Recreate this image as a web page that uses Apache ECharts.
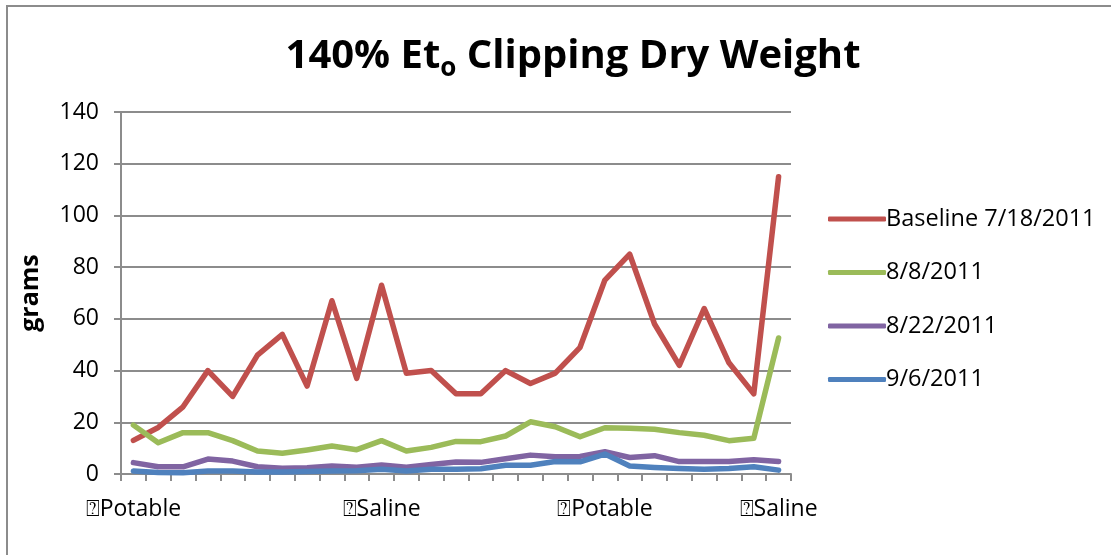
<!DOCTYPE html>
<html><head><meta charset="utf-8">
<script src="https://cdn.jsdelivr.net/npm/echarts@6/dist/echarts.min.js"></script>
<style>html,body{margin:0;padding:0;background:#fff}#c{width:1111px;height:555px}</style>
</head><body><div id="c"></div>
<script>
var categories = ["⍰Potable","","","","","","","","","","⍰Saline","","","","","","","","","⍰Potable","","","","","","","⍰Saline"];
var baseline = [13,18,26,40,30,46,54,34,67,37,73,39,40,31,31,40,35,39,49,75,85,58,42,64,43,31,115];
var aug8 = [18.9,12.1,16.0,16.0,12.9,8.9,8.0,9.3,10.8,9.4,12.9,8.9,10.3,12.6,12.5,14.7,20.2,18.3,14.4,17.9,17.7,17.3,16.0,15.0,12.9,13.8,52.6];
var aug22 = [4.4,2.8,2.8,5.8,5.0,2.8,2.2,2.4,3.1,2.6,3.5,2.6,3.7,4.6,4.5,5.9,7.3,6.7,6.8,8.6,6.4,7.1,4.8,4.8,4.8,5.5,4.8];
var sep6 = [1.2,0.6,0.5,1.2,1.2,0.8,0.8,1.0,1.2,1.3,1.8,1.2,1.8,1.8,2.0,3.4,3.4,4.8,4.7,7.7,3.1,2.5,2.1,1.8,2.1,2.8,1.5];
var seriesNames = ["Baseline 7/18/2011","8/8/2011","8/22/2011","9/6/2011"];
var yTicks = {min:0, max:140, interval:20};

var chart = echarts.init(document.getElementById('c'));
var FONT = 'Open Sans';
function mk(name, data, color){
  return {name:name, type:'line', data:data, symbol:'none', showSymbol:false,
    lineStyle:{color:color, width:5.5, cap:'round', join:'round'}, itemStyle:{color:color}, z:3};
}
chart.setOption({
  animation:false,
  backgroundColor:'#fff',
  graphic:[{type:'rect', shape:{x:7,y:6,width:1300,height:700}, style:{fill:'none', stroke:'#8c8c8c', lineWidth:2}, silent:true}],
  title:{text:'140% Et{s|o} Clipping Dry Weight', left:568, top:27, textAlign:'center',
    textStyle:{fontFamily:FONT, fontWeight:'bold', fontSize:40, color:'#000',
      rich:{s:{fontFamily:FONT, fontWeight:'bold', fontSize:26, color:'#000', padding:[24,0,0,0]}}}},
  grid:{left:121, right:320, top:112, bottom:81},
  legend:{orient:'vertical', left:823, top:202, itemGap:29.5, itemWidth:58, itemHeight:5, icon:'roundRect',
    textStyle:{fontFamily:FONT, fontSize:23.5, color:'#000', padding:[0,0,0,-5]},
    data:seriesNames},
  xAxis:{type:'category', data:categories, boundaryGap:true,
    axisLine:{lineStyle:{color:'#8c8c8c', width:2}},
    axisTick:{show:true, interval:0, length:7, lineStyle:{color:'#8c8c8c', width:2}},
    axisLabel:{interval:0, fontFamily:FONT, fontSize:23, color:'#000', margin:24}},
  yAxis:{type:'value', min:yTicks.min, max:yTicks.max, interval:yTicks.interval,
    name:'grams', nameLocation:'middle', nameGap:78,
    nameTextStyle:{fontFamily:FONT, fontWeight:'bold', fontSize:25, color:'#000'},
    axisLine:{show:true, lineStyle:{color:'#8c8c8c', width:2}},
    axisTick:{show:true, length:7, lineStyle:{color:'#8c8c8c', width:2}},
    axisLabel:{fontFamily:FONT, fontSize:23, color:'#000', margin:22},
    splitLine:{lineStyle:{color:'#8c8c8c', width:2}}},
  series:[mk(seriesNames[0], baseline, '#C0504D'), mk(seriesNames[1], aug8, '#9BBB59'),
          mk(seriesNames[2], aug22, '#8064A2'), mk(seriesNames[3], sep6, '#4F81BD')]
});
</script></body></html>
